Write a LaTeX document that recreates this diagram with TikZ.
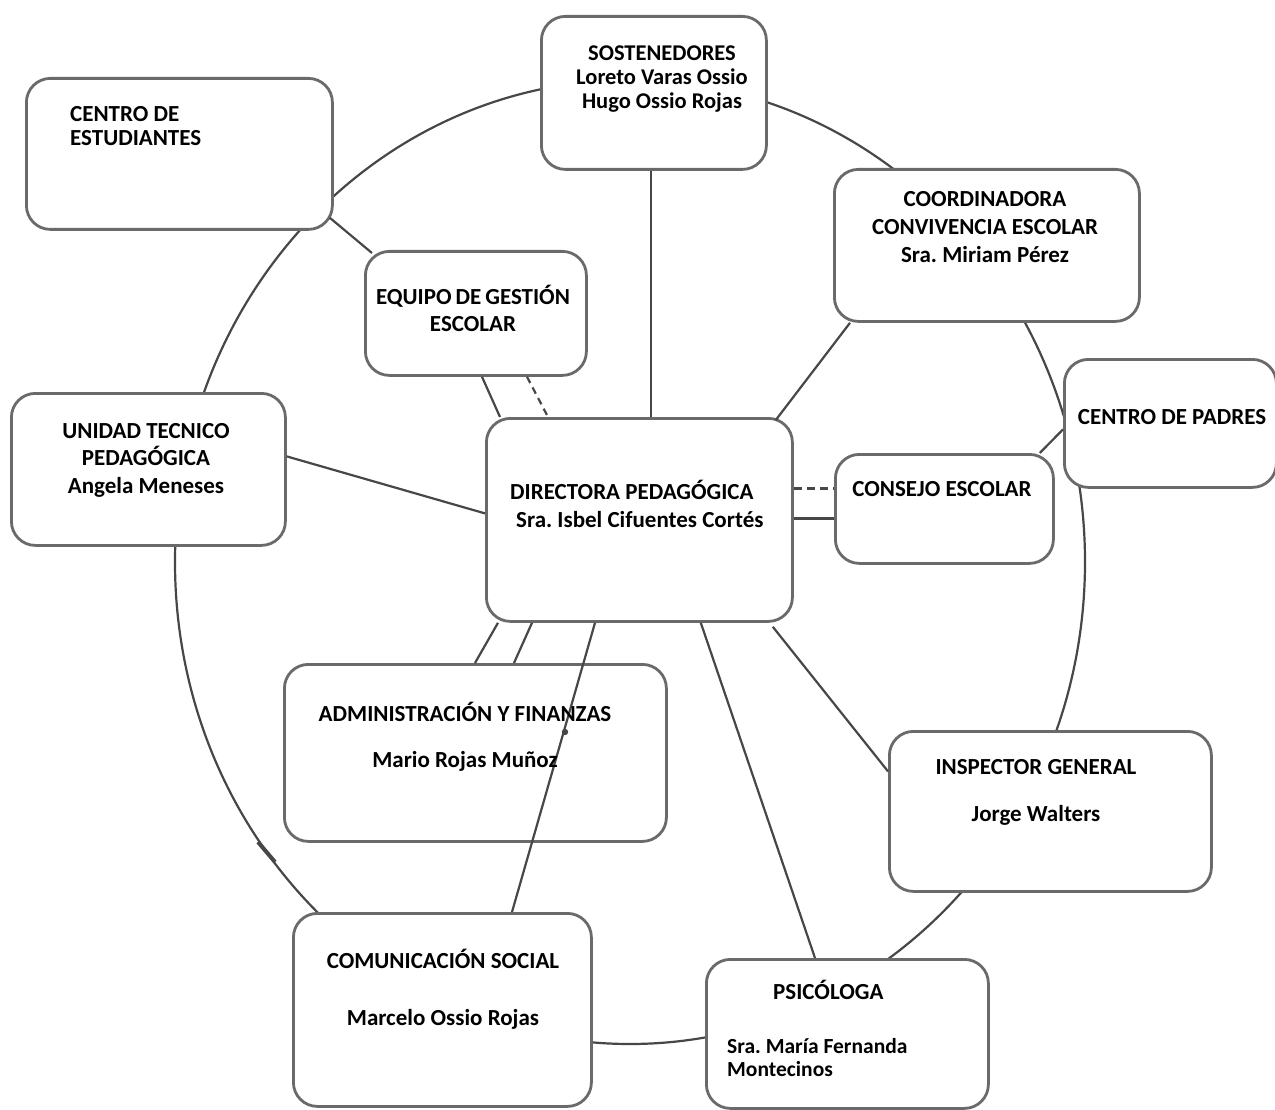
\documentclass[tikz,border=0pt]{standalone}
\usepackage{fontspec}
\setmainfont{Carlito}
\frenchspacing
\begin{document}
\begin{tikzpicture}[x=1pt,y=-1pt,
  box/.style={draw=boxgray,line width=2.8pt,rounded corners=24pt,fill=white,anchor=north west,inner sep=0pt},
  conn/.style={draw=linegray,line width=2.2pt},
  txt/.style={inner sep=0pt,font=\fontsize{23}{24}\selectfont\bfseries,text=black},
  tight/.style={execute at begin node={\spaceskip=4pt\relax}}]
\definecolor{boxgray}{HTML}{6A6A6A}
\definecolor{linegray}{HTML}{474747}
\useasboundingbox (0,0) rectangle (1275,1110);
\fill[white] (0,0) rectangle (1275,1110);
% ring
\draw[conn] (630,562) ellipse [x radius=455pt, y radius=482pt];
\draw[linegray,line width=4pt] (258,842) -- (275,862);
% boxes
\node[box,minimum width=225pt,minimum height=153pt] (sos) at (540,15) {};
\node[box,minimum width=306pt,minimum height=151pt] (ce) at (25,77) {};
\node[box,minimum width=221pt,minimum height=124pt] (eq) at (364,250) {};
\node[box,minimum width=305pt,minimum height=152pt] (coord) at (833,168) {};
\node[box,minimum width=212pt,minimum height=128pt] (cp) at (1063,358) {};
\node[box,minimum width=274pt,minimum height=152pt] (utp) at (10,392) {};
\node[box,minimum width=306pt,minimum height=203pt] (dir) at (485,417) {};
\node[box,minimum width=218pt,minimum height=109pt] (cons) at (834,453) {};
\node[box,minimum width=382pt,minimum height=177pt] (adm) at (283,663) {};
\node[box,minimum width=322pt,minimum height=160pt] (insp) at (888,730) {};
\node[box,minimum width=298pt,minimum height=193pt] (com) at (292,912) {};
\node[box,minimum width=282pt,minimum height=149pt] (psic) at (705,958) {};
% connectors
\draw[conn] ([xshift=-3pt]sos.south) -- ([xshift=-3pt]sos.south |- dir.north);
\draw[conn] ([xshift=-4pt,yshift=13pt]ce.south east) -- ([xshift=8pt,yshift=-3pt]eq.north west);
\draw[conn] ([xshift=118pt]eq.south west) -- ([xshift=15pt]dir.north west);
\draw[conn,dash pattern=on 7pt off 5pt] ([xshift=163pt]eq.south west) -- ([xshift=63pt]dir.north west);
\draw[conn] ([xshift=-18pt,yshift=-3pt]dir.north east) -- ([xshift=17pt]coord.south west);
\draw[conn,dash pattern=on 8pt off 5pt] ([yshift=31.5pt]dir.east) -- ([yshift=31.5pt]dir.east -| cons.west);
\draw[conn] ([yshift=1.5pt]dir.east) -- ([yshift=1.5pt]dir.east -| cons.west);
\draw[conn] ([xshift=-15pt]cons.north east) -- ([yshift=-6pt]cp.west);
\draw[conn] ([xshift=-21pt,yshift=-4pt]dir.south east) -- ([yshift=40pt]insp.west);
\draw[conn] ([xshift=-93pt]dir.south east) -- ([xshift=110pt]psic.north west);
\draw[conn] ([yshift=6.5pt]dir.west) -- ([yshift=13pt]utp.east);
\draw[conn] ([xshift=13pt]dir.south west) -- ([xshift=192pt]adm.north west);
\draw[conn] ([xshift=47pt]dir.south west) -- ([xshift=231pt]adm.north west);
\draw[conn] ([xshift=110pt]dir.south west) -- ([xshift=220pt]com.north west);
\fill[linegray] (565,732) circle (3.2pt);
% texts
\node[txt,align=center,font=\fontsize{22.5}{24}\selectfont\bfseries] (sosT) at (662,79) {SOSTENEDORES\\Loreto Varas Ossio\\Hugo Ossio Rojas};
\node[txt,align=left,anchor=west,font=\fontsize{23}{24}\selectfont\bfseries] (ceT) at (70,126) {CENTRO DE\\ESTUDIANTES};
\node[txt,tight,align=center,font=\fontsize{23}{27}\selectfont\bfseries] (eqT) at (473,308) {EQUIPO DE GESTIÓN\\ESCOLAR};
\node[txt,align=center,font=\fontsize{23}{28}\selectfont\bfseries] (coordT) at (985,227) {COORDINADORA\\CONVIVENCIA ESCOLAR\\Sra. Miriam Pérez};
\node[txt] (cpT) at (1172,417) {CENTRO DE PADRES};
\node[txt,align=center,font=\fontsize{23}{27.5}\selectfont\bfseries] (utpT) at (146,460) {UNIDAD TECNICO\\PEDAGÓGICA\\Angela Meneses};
\node[txt,align=left,anchor=west,font=\fontsize{23}{28}\selectfont\bfseries] (dirT) at (510,504) {DIRECTORA PEDAGÓGICA\\\hspace*{6pt}Sra. Isbel Cifuentes Cortés};
\node[txt] (consT) at (942,489) {CONSEJO ESCOLAR};
\node[txt,align=center,font=\fontsize{23}{46}\selectfont\bfseries] (admT) at (465,737) {ADMINISTRACIÓN Y FINANZAS\\Mario Rojas Muñoz};
\node[txt,align=center,font=\fontsize{23}{47}\selectfont\bfseries] (inspT) at (1036,792) {INSPECTOR GENERAL\\Jorge Walters};
\node[txt,align=center,font=\fontsize{23}{57}\selectfont\bfseries] (comT) at (443,989) {COMUNICACIÓN SOCIAL\\Marcelo Ossio Rojas};
\node[txt,anchor=west] (psicT) at (773,990) {PSICÓLOGA};
\node[txt,align=left,anchor=west,font=\fontsize{21.5}{23}\selectfont\bfseries] (psicN) at (727,1058) {Sra. María Fernanda\\Montecinos};
\end{tikzpicture}
\end{document}
